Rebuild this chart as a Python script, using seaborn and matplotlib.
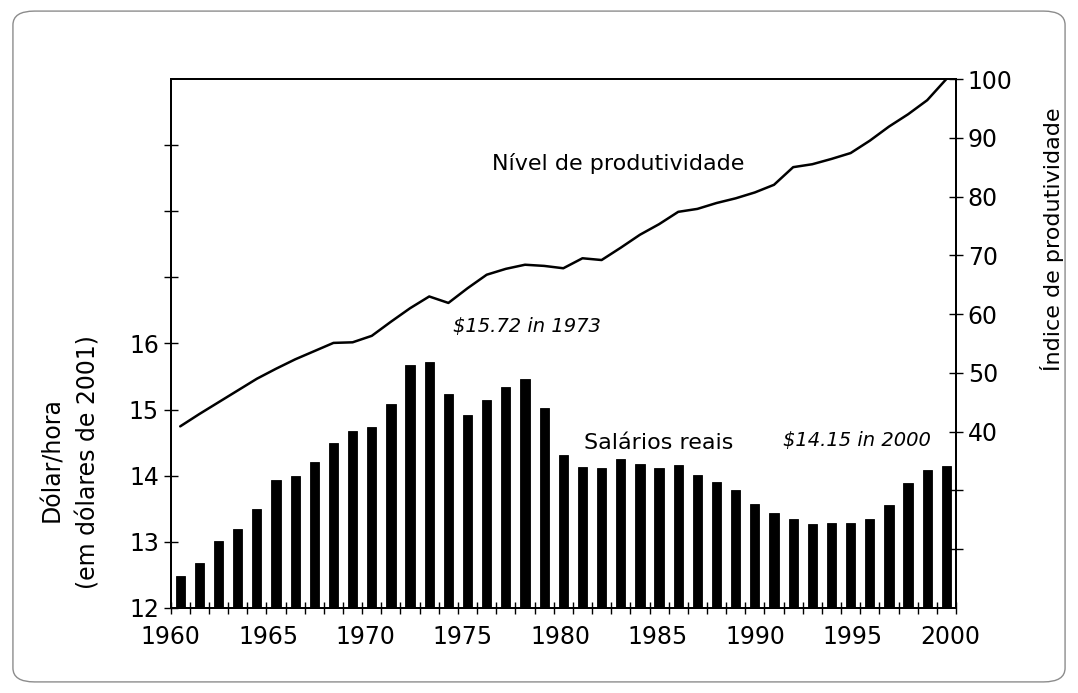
import matplotlib
matplotlib.use('Agg')
import matplotlib.pyplot as plt
import seaborn as sns
import numpy as np
import pandas as pd
from matplotlib.patches import FancyBboxPatch

# data
years = list(range(1960, 2001))
wages = [12.49, 12.68, 13.02, 13.20, 13.49, 13.94, 14.00, 14.21, 14.49, 14.67,
         14.74, 15.08, 15.68, 15.72, 15.23, 14.92, 15.14, 15.34, 15.47, 15.03,
         14.31, 14.13, 14.11, 14.26, 14.18, 14.12, 14.16, 14.01, 13.90, 13.78,
         13.57, 13.43, 13.34, 13.27, 13.29, 13.29, 13.34, 13.56, 13.89, 14.08,
         14.15]
productivity = [40.9, 43.0, 45.0, 47.0, 49.0, 50.7, 52.3, 53.7, 55.1, 55.2,
                56.3, 58.7, 61.0, 63.0, 61.9, 64.4, 66.7, 67.7, 68.4, 68.2,
                67.8, 69.5, 69.2, 71.3, 73.5, 75.3, 77.4, 77.9, 78.9, 79.7,
                80.7, 82.0, 85.0, 85.5, 86.4, 87.4, 89.5, 91.9, 94.0, 96.4,
                100.0]

left_ticks = [12, 13, 14, 15, 16, 17, 18, 19]
left_labels = ['12', '13', '14', '15', '16', '', '', '']
right_ticks = [20, 30, 40, 50, 60, 70, 80, 90, 100]
right_labels = ['', '', '40', '50', '60', '70', '80', '90', '100']
year_ticks = [1960, 1965, 1970, 1975, 1980, 1985, 1990, 1995, 2000]

sns.set_theme(style='white')
plt.rcParams['font.family'] = ['DejaVu Sans']
plt.rcParams['text.color'] = 'black'

df = pd.DataFrame({'ano': years, 'salario': wages, 'produtividade': productivity})
slots = np.arange(len(years))

fig = plt.figure(figsize=(10.78, 6.93), dpi=100)
ax = fig.add_axes([0.1583, 0.1227, 0.7285, 0.7633])

sns.barplot(data=df, x='ano', y='salario', color='black', saturation=1,
            width=0.48, errorbar=None, edgecolor='black', linewidth=0.6, ax=ax)
ax.set_ylim(12, 20)
ax.set_xlim(-0.5, len(years) - 0.5)
ax.set_xlabel('')
ax.set_ylabel('')
# tick marks between the bars, no labels
ax.set_xticks(np.append(slots, len(years)) - 0.5)
ax.set_xticklabels([])
ax.tick_params(axis='x', direction='inout', length=9, width=1,
               colors='black', bottom=True)
ax.set_yticks(left_ticks)
ax.set_yticklabels(left_labels)
ax.tick_params(axis='y', direction='inout', length=10, width=1,
               labelsize=17, colors='black', left=True)

# productivity index on the right axis
ax2 = ax.twinx()
sns.lineplot(x=slots, y=df['produtividade'], color='black',
             linewidth=1.8, ax=ax2)
ax2.set_ylim(10, 100)
ax2.set_ylabel('')
ax2.set_yticks(right_ticks)
ax2.set_yticklabels(right_labels)
ax2.tick_params(axis='y', direction='inout', length=10, width=1,
                labelsize=17, colors='black', right=True)

# year labels along the bottom
ax3 = ax.twiny()
ax3.set_xlim(1960, 2000.3)
ax3.xaxis.set_ticks_position('bottom')
ax3.xaxis.set_label_position('bottom')
ax3.set_xticks(year_ticks)
ax3.tick_params(axis='x', length=0, labelsize=17, colors='black',
                bottom=True, top=False, pad=12)

for a in (ax, ax2, ax3):
    for s in a.spines.values():
        s.set_color('black')
        s.set_linewidth(1.2)

ax.text(0.57, 0.841, 'Nível de produtividade', transform=ax.transAxes,
        ha='center', va='center', fontsize=16)
ax.text(0.454, 0.533, '$15.72 in 1973', transform=ax.transAxes,
        ha='center', va='center', fontsize=14, style='italic')
ax.text(0.621, 0.312, 'Salários reais', transform=ax.transAxes,
        ha='center', va='center', fontsize=16)
ax.text(0.874, 0.316, '$14.15 in 2000', transform=ax.transAxes,
        ha='center', va='center', fontsize=14, style='italic')

fig.text(0.048, 1 - 460 / 693, 'Dólar/hora', rotation=90,
         ha='center', va='center', fontsize=17)
fig.text(0.082, 1 - 462 / 693, '(em dólares de 2001)', rotation=90,
         ha='center', va='center', fontsize=17)
fig.text(0.976, 1 - 239 / 693, 'Índice de produtividade', rotation=90,
         ha='center', va='center', fontsize=16)

border = FancyBboxPatch((0.012, 0.016), 0.976, 0.968,
                        boxstyle='round,pad=0,rounding_size=0.02',
                        transform=fig.transFigure, fill=False,
                        edgecolor='0.55', linewidth=1)
fig.patches.append(border)

fig.savefig('out.png', dpi=100)
